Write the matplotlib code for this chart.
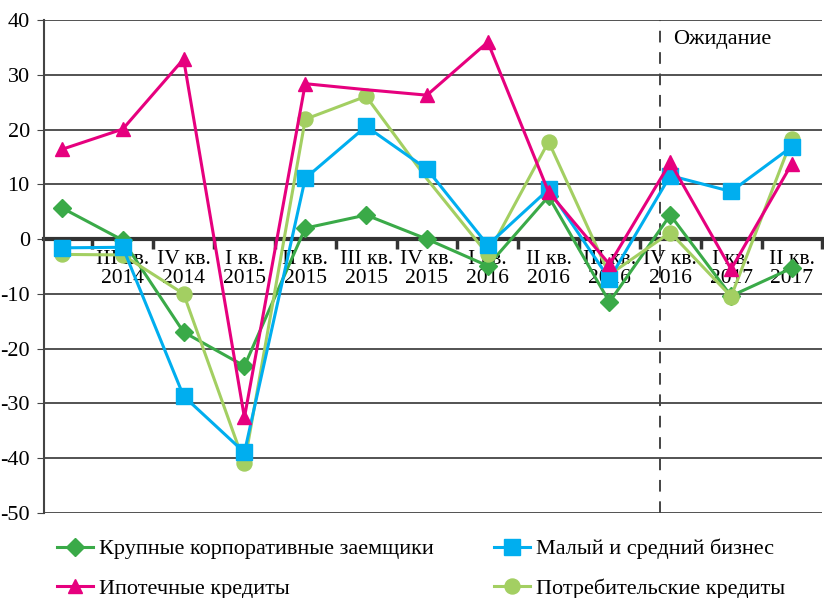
import matplotlib
matplotlib.use('Agg')
import matplotlib.pyplot as plt
from matplotlib.ticker import MultipleLocator, FixedLocator

# quarters (the first one is cut off by the axis in the original)
quarters = ['II кв.\n2014', 'III кв.\n2014', 'IV кв.\n2014', 'I кв.\n2015', 'II кв.\n2015',
            'III кв.\n2015', 'IV кв.\n2015', 'I кв.\n2016', 'II кв.\n2016', 'III кв.\n2016',
            'IV кв.\n2016', 'I кв.\n2017', 'II кв.\n2017']

large_corp = [5.7, -0.2, -17.0, -23.2, 2.0, 4.4, 0.0, -4.9, 7.8, -11.5, 4.4, -10.4, -5.3]
small_mid = [-1.6, -1.5, -28.7, -39.0, 11.1, 20.6, 12.8, -1.1, 9.1, -7.3, 11.6, 8.7, 16.9]
mortgage = [16.4, 20.1, 32.9, -32.6, 28.4, 27.3, 26.3, 36.0, 8.6, -4.6, 14.0, -5.5, 13.8]
consumer = [-2.8, -2.9, -10.0, -41.0, 21.9, 26.1, 11.0, -2.8, 17.8, -6.5, 1.2, -10.5, 18.3]

expect_label = 'Ожидание'

plt.rcParams['font.family'] = ['Liberation Serif', 'DejaVu Serif']
plt.rcParams['font.size'] = 15

fig = plt.figure(figsize=(8.24, 5.98), dpi=100)
ax = fig.add_axes([0.053, 0.1427, 0.945, 0.8235])

x = list(range(len(quarters)))
skip5 = [i for i in x if i != 5]
skip6 = [i for i in x if i != 6]

l1, = ax.plot(x, large_corp, color='#3aaa48', lw=2.2, marker='D', ms=9.5, zorder=3)
l2, = ax.plot(x, small_mid, color='#00aeef', lw=2.2, marker='s', ms=11.5, zorder=4)
l3, = ax.plot(x, mortgage, color='#e6007e', lw=2.2, marker='^', ms=10.5,
              markevery=skip5, zorder=5)
l4, = ax.plot(x, consumer, color='#a3cf62', lw=2.2, marker='o', ms=10.8,
              markevery=skip6, zorder=3.5)

ax.set_xlim(-0.3, 12.5)
ax.set_ylim(-50, 40)
ax.yaxis.set_major_locator(MultipleLocator(10))
ax.yaxis.grid(True, color='#444444', lw=1.3)
ax.set_axisbelow(True)

for s in ['top', 'right']:
    ax.spines[s].set_visible(False)
ax.spines['left'].set_color('#444444')
ax.spines['left'].set_linewidth(1.5)
ax.spines['bottom'].set_position(('data', 0))
ax.spines['bottom'].set_color('#333333')
ax.spines['bottom'].set_linewidth(3)
ax.spines['bottom'].set_zorder(2)

ax.tick_params(axis='y', direction='out', length=5, color='#444444', pad=5, labelsize=16)
ax.set_yticks(ax.get_yticks())
ax.set_yticklabels([str(int(v)) for v in ax.get_yticks()])
ax.set_ylim(-50, 40)
ax.set_xticks(x[1:])
ax.set_xticklabels(quarters[1:], linespacing=1.0)
ax.xaxis.set_minor_locator(FixedLocator([i + 0.5 for i in x]))
ax.tick_params(axis='x', which='major', length=0, pad=8, labelsize=15.5)
ax.tick_params(axis='x', which='minor', length=7, width=2.5, color='#333333')

ax.axvline(9.83, color='#444444', lw=1.4, ls=(0, (6, 5)), zorder=2)
ax.text(10.05, 36.5, expect_label, ha='left', va='center', fontsize=16)

fig.legend([l1, l3, l2, l4],
           ['Крупные корпоративные заемщики', 'Ипотечные кредиты',
            'Малый и средний бизнес', 'Потребительские кредиты'],
           loc='lower left', bbox_to_anchor=(0.045, -0.035), ncol=2, frameon=False,
           fontsize=16, handlelength=1.6, columnspacing=2.7, labelspacing=0.85,
           handletextpad=0.3)

fig.savefig('out.png', dpi=100)
